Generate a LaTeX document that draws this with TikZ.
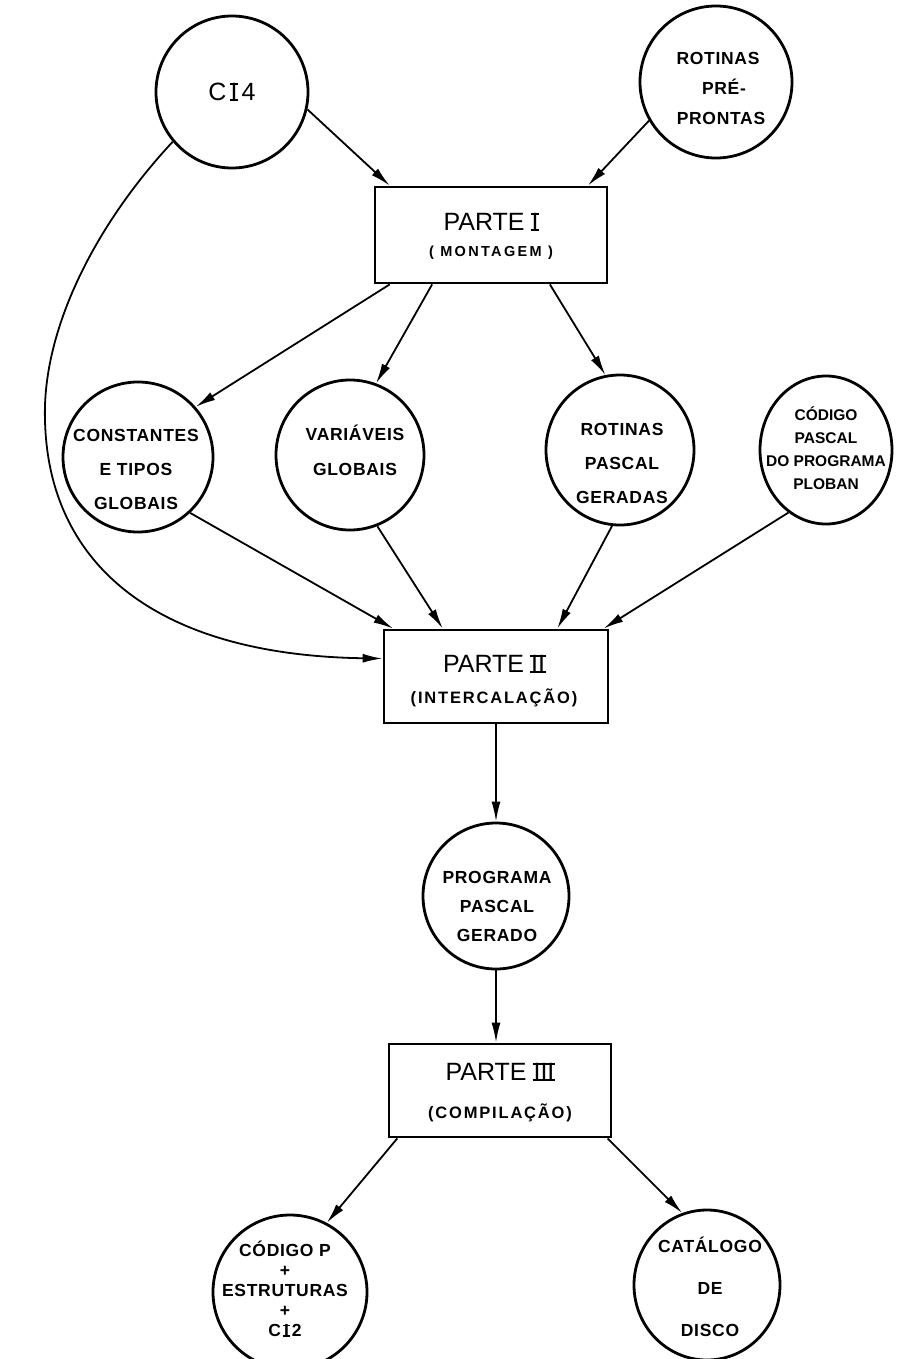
\documentclass[tikz,border=0pt]{standalone}
\usepackage{fontspec}
\setmainfont{Liberation Sans}
\newfontfamily\tagfont[LetterSpace=4]{Liberation Sans}
\newfontfamily\subfont[LetterSpace=11]{Liberation Sans}
\newfontfamily\widefont[LetterSpace=16]{Liberation Sans}
\newfontfamily\plainfont{Liberation Sans}
\usetikzlibrary{arrows.meta,shapes.geometric}

% Roman numeral / letter I with bars on top and bottom
\newbox\nbx
\newcommand\numbar[1]{\leavevmode\setbox\nbx\hbox{#1}%
  \rlap{\hspace{-0.7pt}\rule{\dimexpr\wd\nbx+1.4pt}{1.6pt}}%
  \rlap{\hspace{-0.7pt}\raisebox{\dimexpr\ht\nbx-1.6pt}{\rule{\dimexpr\wd\nbx+1.4pt}{1.6pt}}}%
  \box\nbx\relax}

\begin{document}
\begin{tikzpicture}[x=1pt,y=-1pt,
  bub/.style={ellipse, draw, line width=2.8pt, inner sep=0pt},
  stagebox/.style={rectangle, draw, line width=2.8pt, inner sep=0pt},
  arr/.style={line width=1.8pt, -{Latex[length=20pt,width=9pt]}},
  lab/.style={font=\tagfont\bfseries\fontsize{17.5}{#1}\selectfont, align=center, inner sep=0pt},
  tight/.style={font=\plainfont\bfseries\fontsize{15.5}{#1}\selectfont, align=center, inner sep=0pt},
  big/.style={font=\plainfont\fontsize{25}{25}\selectfont, inner sep=0pt},
  sub/.style={font=\subfont\bfseries\fontsize{16.5}{16.5}\selectfont, inner sep=0pt}]
\useasboundingbox (0,0) rectangle (902,1359);

% ---- top row
\node[bub, minimum width=152, minimum height=152] (ci4) at (232,92) {};
\node[big] (ci4t) at (ci4) {C\,\numbar{I}\,4};

\node[bub, minimum width=152, minimum height=152] (rpp) at (716,82) {};
\node[lab=30] (rppt) at (718,88) {ROTINAS\\\hspace*{12pt}PRÉ-\\\hspace*{6pt}PRONTAS};

% ---- part I
\node[stagebox, minimum width=232, minimum height=96] (p1) at (491,235) {};
\node[big] (p1a) at (491,222) {PARTE \numbar{I}};
\node[sub, font=\widefont\bfseries\fontsize{14.5}{14.5}\selectfont] (p1b) at (491,253) {( MONTAGEM )};

% ---- middle row
\node[bub, minimum width=150, minimum height=150] (cons) at (138,457) {};
\node[lab=34] (const) at (136,469) {CONSTANTES\\E TIPOS\\GLOBAIS};

\node[bub, minimum width=148, minimum height=150] (vars) at (350,455) {};
\node[lab=35] (varst) at (355,450) {VARIÁVEIS\\GLOBAIS};

\node[bub, minimum width=148, minimum height=150] (rpg) at (620,450) {};
\node[lab=34] (rpgt) at (622,463) {ROTINAS\\PASCAL\\GERADAS};

\node[bub, minimum width=132, minimum height=148] (cpp) at (826,450) {};
\node[tight=23] (cppt) at (826,448) {CÓDIGO\\PASCAL\\DO PROGRAMA\\PLOBAN};

% ---- part II
\node[stagebox, minimum width=224, minimum height=93] (p2) at (496,676.5) {};
\node[big] (p2a) at (494,664) {PARTE \numbar{II}};
\node[sub] (p2b) at (494,698) {(INTERCALAÇÃO)};

\node[bub, minimum width=146, minimum height=146] (ppg) at (496,896) {};
\node[lab=29] (ppgt) at (497,906) {PROGRAMA\\PASCAL\\GERADO};

% ---- part III
\node[stagebox, minimum width=222, minimum height=93] (p3) at (500,1090.5) {};
\node[big] (p3a) at (500,1072) {PARTE \numbar{III}};
\node[sub] (p3b) at (500,1113) {(COMPILAÇÃO)};

% ---- results
\node[bub, minimum width=154, minimum height=154] (cdp) at (290,1292) {};
\node[lab=20] (cdpt) at (285,1289) {CÓDIGO P\\+\\ESTRUTURAS\\+\\C\,\numbar{I}\,2};

\node[bub, minimum width=146, minimum height=150] (cat) at (707,1285) {};
\node[lab=42] (catt) at (710,1287) {CATÁLOGO\\DE\\DISCO};

% ---- connectors
\draw[arr] (ci4.-13) -- (p1.154);
\draw[arr] (rpp.210) -- (p1.27);
\draw[arr] (p1.206) -- (cons.41);
\draw[arr] (p1.220) -- (vars.70);
\draw[arr] (p1.-40) -- (rpg.101);
\draw[arr] (cons.-47) -- (p2.155.6);
\draw[arr] (vars.-69) -- (p2.138.6);
\draw[arr] (rpg.-96) -- (p2.38);
\draw[arr] (cpp.-121) -- (p2.24.5);
\draw[arr] (ci4.220) .. controls (95,225) and (42,330) .. (45,420)
                    .. controls (48,560) and (150,655) .. (p2.171);
\draw[arr] (p2.south) -- (ppg.north);
\draw[arr] (ppg.south) -- (ppg.south |- p3.north);
\draw[arr] (p3.205.6) -- (cdp.62);
\draw[arr] (p3.-24) -- (cat.109);
\end{tikzpicture}
\end{document}
